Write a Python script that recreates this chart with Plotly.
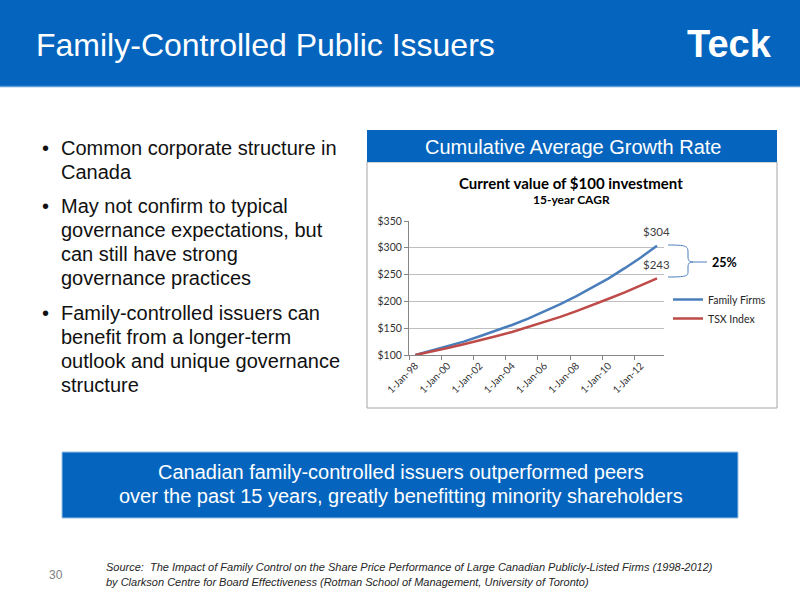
import plotly.graph_objects as go

# ---- data ----
years = list(range(1998, 2014))
dates = [f"{y}-01-01" for y in years]
family_firms = [100, 108, 116, 125, 135, 145, 156, 168, 181, 195, 210, 226, 243, 262, 282, 304]
tsx_index = [100, 106, 113, 120, 127, 135, 143, 152, 161, 171, 182, 193, 205, 217, 230, 243]
x_tick_vals = [f"{y}-01-01" for y in range(1998, 2013, 2)]
x_tick_text = [f"1-Jan-{str(y)[2:]}" for y in range(1998, 2013, 2)]
x_minor_vals = [f"{y}-08-09" for y in range(1997, 2014, 2)]
y_tick_vals = [100, 150, 200, 250, 300, 350]
y_tick_text = [f"${v}" for v in y_tick_vals]
bullets = [
    ["Common corporate structure in", "Canada"],
    ["May not confirm to typical", "governance expectations, but", "can still have strong", "governance practices"],
    ["Family-controlled issuers can", "benefit from a longer-term", "outlook and unique governance", "structure"],
]
callout_lines = [
    "Canadian family-controlled issuers outperformed peers",
    "over the past 15 years, greatly benefitting minority shareholders",
]
source_lines = [
    "Source:  The Impact of Family Control on the Share Price Performance of Large Canadian Publicly-Listed Firms (1998-2012)",
    "by Clarkson Centre for Board Effectiveness (Rotman School of Management, University of Toronto)",
]

W, H = 800, 600
def px(x):
    return x / W
def py(y):
    return 1 - y / H

BLUE = "#0565BE"
ARIAL = "Liberation Sans, Arial, sans-serif"
CAL = "Lato, Carlito, Calibri, sans-serif"

fig = go.Figure()
fig.add_trace(go.Scatter(x=dates, y=family_firms, mode="lines", name="Family Firms",
                         legendgroup="a", line=dict(color="#4A7EBB", width=2.5)))
fig.add_trace(go.Scatter(x=dates, y=tsx_index, mode="lines", name="TSX Index",
                         legendgroup="b", line=dict(color="#BE4B48", width=2.5)))

shapes = []
# header band
shapes.append(dict(type="rect", xref="paper", yref="paper", x0=0, x1=1, y0=py(86), y1=1,
                   fillcolor=BLUE, line=dict(width=0), layer="below"))
shapes.append(dict(type="line", xref="paper", yref="paper", x0=0, x1=1, y0=py(86.5), y1=py(86.5),
                   line=dict(color="#5B9BD5", width=1.5), layer="below"))
# chart box
shapes.append(dict(type="rect", xref="paper", yref="paper", x0=px(367), x1=px(777), y0=py(408), y1=py(162),
                   fillcolor="white", line=dict(color="#A6A6A6", width=1), layer="below"))
shapes.append(dict(type="rect", xref="paper", yref="paper", x0=px(367), x1=px(777), y0=py(162), y1=py(130),
                   fillcolor=BLUE, line=dict(width=0), layer="below"))
# bottom box
shapes.append(dict(type="rect", xref="paper", yref="paper", x0=px(62), x1=px(738), y0=py(518), y1=py(452),
                   fillcolor=BLUE, line=dict(color="#9DC3E6", width=1), layer="below"))
# curly brace
brace = (f"M {px(668)},{py(245)} C {px(686)},{py(245)} {px(688)},{py(246)} {px(688)},{py(252)} "
         f"L {px(688)},{py(257)} C {px(688)},{py(261)} {px(690)},{py(262)} {px(693)},{py(262)} "
         f"C {px(690)},{py(262)} {px(688)},{py(263)} {px(688)},{py(267)} "
         f"L {px(688)},{py(272)} C {px(688)},{py(276)} {px(686)},{py(277)} {px(668)},{py(277)}")
shapes.append(dict(type="path", xref="paper", yref="paper", path=brace,
                   line=dict(color="#4A7EBB", width=1)))
shapes.append(dict(type="line", xref="paper", yref="paper", x0=px(693), x1=px(707), y0=py(262), y1=py(262),
                   line=dict(color="#4A7EBB", width=1)))

ann = []
ann.append(dict(x=px(34), y=py(45), xref="paper", yref="paper", xanchor="left", yanchor="middle",
                text="Family-Controlled Public Issuers", showarrow=False,
                font=dict(family=ARIAL, size=32, color="white")))
ann.append(dict(x=px(774), y=py(44), xref="paper", yref="paper", xanchor="right", yanchor="middle",
                text="<b>Teck</b>", showarrow=False,
                font=dict(family="Liberation Sans Narrow, " + ARIAL, size=38, color="white")))
ann.append(dict(x=px(573), y=py(147), xref="paper", yref="paper", xanchor="center", yanchor="middle",
                text="Cumulative Average Growth Rate", showarrow=False,
                font=dict(family=ARIAL, size=20, color="white")))
ann.append(dict(x=px(571), y=py(183), xref="paper", yref="paper", xanchor="center", yanchor="middle",
                text="<b>Current value of $100 investment</b>", showarrow=False,
                font=dict(family=CAL, size=15, color="black")))
ann.append(dict(x=px(571), y=py(199), xref="paper", yref="paper", xanchor="center", yanchor="middle",
                text="<b>15-year CAGR</b>", showarrow=False,
                font=dict(family=CAL, size=12, color="black")))
ann.append(dict(x=dates[-1], y=family_firms[-1], xref="x", yref="y", yshift=14,
                text=f"${family_firms[-1]}", showarrow=False,
                font=dict(family=CAL, size=11.5, color="#404040")))
ann.append(dict(x=dates[-1], y=tsx_index[-1], xref="x", yref="y", yshift=14,
                text=f"${tsx_index[-1]}", showarrow=False,
                font=dict(family=CAL, size=11.5, color="#404040")))
ann.append(dict(x=px(710), y=py(262), xref="paper", yref="paper", xanchor="left", yanchor="middle",
                text="<b>25%</b>", showarrow=False,
                font=dict(family=CAL, size=12.5, color="black")))
# bullets
bullet_first = [148, 206, 313]
for first, lines in zip(bullet_first, bullets):
    ann.append(dict(x=px(40), y=py(first), xref="paper", yref="paper", xanchor="left", yanchor="middle",
                    text="•", showarrow=False,
                    font=dict(family=ARIAL, size=20, color="#111111")))
    for i, line in enumerate(lines):
        ann.append(dict(x=px(59), y=py(first + 24 * i), xref="paper", yref="paper",
                        xanchor="left", yanchor="middle", text=line, showarrow=False,
                        font=dict(family=ARIAL, size=20, color="#111111")))
for i, line in enumerate(callout_lines):
    ann.append(dict(x=px(401), y=py(472 + 24 * i), xref="paper", yref="paper", xanchor="center",
                    yanchor="middle", text=line, showarrow=False,
                    font=dict(family=ARIAL, size=20, color="white")))
ann.append(dict(x=px(47), y=py(575), xref="paper", yref="paper", xanchor="left", yanchor="middle",
                text="30", showarrow=False, font=dict(family=ARIAL, size=12, color="#808080")))
for i, line in enumerate(source_lines):
    ann.append(dict(x=px(104), y=py(567 + 15 * i), xref="paper", yref="paper", xanchor="left",
                    yanchor="middle", text=f"<i>{line}</i>", showarrow=False,
                    font=dict(family=ARIAL, size=11, color="#262626")))

fig.update_layout(
    width=W, height=H,
    margin=dict(l=0, r=0, t=0, b=0, pad=0, autoexpand=False),
    paper_bgcolor="white", plot_bgcolor="white",
    shapes=shapes, annotations=ann,
    showlegend=True,
    legend=dict(x=px(668), y=py(285), xanchor="left", yanchor="top",
                bgcolor="rgba(0,0,0,0)", font=dict(family=CAL, size=10.5, color="#262626"),
                itemwidth=30, tracegroupgap=0),
    xaxis=dict(domain=[px(409), px(664)], type="date",
               range=["1997-08-09", "2013-06-09"],
               tickmode="array", tickvals=x_tick_vals, ticktext=x_tick_text,
               tickangle=-45, ticks="", showgrid=False, automargin=False,
               showline=True, linecolor="#868686", linewidth=1,
               tickfont=dict(family=CAL, size=10, color="#333333"),
               minor=dict(tickmode="array", tickvals=x_minor_vals, ticks="outside",
                          ticklen=4, tickcolor="#868686", showgrid=False),
               fixedrange=True),
    yaxis=dict(domain=[py(355), py(221)], range=[100, 350],
               tickmode="array", tickvals=y_tick_vals, ticktext=y_tick_text,
               ticks="outside", ticklen=4, tickcolor="#868686",
               showgrid=True, gridcolor="#BFBFBF", gridwidth=1,
               showline=True, linecolor="#868686", linewidth=1,
               zeroline=False, automargin=False,
               tickfont=dict(family=CAL, size=10.5, color="#333333"),
               fixedrange=True),
)

fig.write_html("out.html", config={"displayModeBar": False},
               post_script="document.body.style.margin='0';document.body.style.overflow='hidden';")
